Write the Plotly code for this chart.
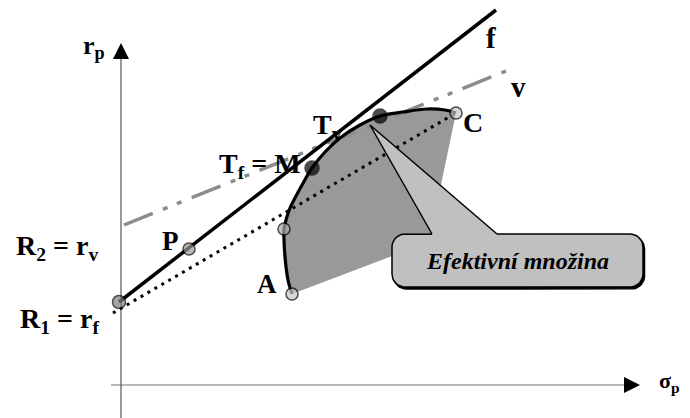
import numpy as np
import plotly.graph_objs as go

# efficient frontier A -> C  (sigma_p, r_p)
frontier_sigma = [171, 167, 164, 163, 163, 165, 169, 174, 181, 191, 204, 219, 239, 259, 282, 306, 324, 335]
frontier_r = [91, 105, 128, 145, 156, 165, 177, 187, 200, 217, 233, 247, 260, 269, 273, 276, 275, 272]

# hidden lower-right corner of the feasible set
corner_sigma = [308]
corner_r = [143]

# capital market lines
f_sigma = [-2, 375]
f_r = [83, 375]
v_sigma = [3, 385]
v_r = [160, 314]
rc_sigma = [-8, 335]
rc_r = [72, 272]

# named points
pt_names = ['R1', 'P', 'X', 'A', 'C', 'M', 'Tv']
pt_sigma = [-2, 68, 163, 171, 335, 191, 259]
pt_r = [83, 136, 156, 91, 272, 217, 269]
pt_fill = ['#808080', '#9a9a9a', '#ababab', '#c8c8c8', '#c8c8c8', 'black', 'black']
pt_size = [13, 12, 12, 12, 12, 14, 14]

# callout
box_sigma = [271, 522]
box_r = [98, 151]
pointer_sigma = [249, 311, 376]
pointer_r = [260, 151, 151]

# axes
x_axis_sigma = [-10, 519]
y_axis_r = [-33, 342]

FONT = 'Liberation Serif, Times New Roman, serif'


def rounded_box(x0, x1, y0, y1, rad):
    xs, ys = [], []
    corners = [(x1 - rad, y1 - rad, 0), (x0 + rad, y1 - rad, 90),
               (x0 + rad, y0 + rad, 180), (x1 - rad, y0 + rad, 270)]
    for cx, cy, a0 in corners:
        t = np.radians(np.linspace(a0, a0 + 90, 10))
        xs += list(cx + rad * np.cos(t))
        ys += list(cy + rad * np.sin(t))
    return xs + [xs[0]], ys + [ys[0]]


fig = go.Figure()

# feasible set
fig.add_trace(go.Scatter(
    x=frontier_sigma + corner_sigma + frontier_sigma[:1],
    y=frontier_r + corner_r + frontier_r[:1],
    fill='toself', fillcolor='#999999', mode='none'))

# lines
fig.add_trace(go.Scatter(x=v_sigma, y=v_r, mode='lines',
                         line=dict(color='#8c8c8c', width=3.5, dash='31px,11px,5px,10px,5px,11px')))
fig.add_trace(go.Scatter(x=rc_sigma, y=rc_r, mode='lines',
                         line=dict(color='black', width=3, dash='3px,5px')))
fig.add_trace(go.Scatter(x=f_sigma, y=f_r, mode='lines',
                         line=dict(color='black', width=3.5)))

# callout shadow + box
bx, by = rounded_box(box_sigma[0], box_sigma[1], box_r[0], box_r[1], 13)
fig.add_trace(go.Scatter(x=[v + 1.5 for v in bx], y=[v - 2 for v in by], mode='lines',
                         fill='toself', fillcolor='black', line=dict(color='black', width=1.5)))
fig.add_trace(go.Scatter(x=bx, y=by, mode='lines', fill='toself', fillcolor='#c0c0c0',
                         line=dict(color='black', width=1.5)))
# pointer
fig.add_trace(go.Scatter(x=[pointer_sigma[0], pointer_sigma[1], pointer_sigma[1], pointer_sigma[2], pointer_sigma[2], pointer_sigma[0]],
                         y=[pointer_r[0], pointer_r[1], pointer_r[1] - 2, pointer_r[2] - 2, pointer_r[2], pointer_r[0]],
                         mode='none', fill='toself', fillcolor='#c0c0c0'))
fig.add_trace(go.Scatter(x=[pointer_sigma[1], pointer_sigma[0], pointer_sigma[2]],
                         y=[pointer_r[1], pointer_r[0], pointer_r[2]],
                         mode='lines', line=dict(color='black', width=1.5)))

# frontier curve
fig.add_trace(go.Scatter(x=frontier_sigma, y=frontier_r, mode='lines',
                         line=dict(color='black', width=3.2, shape='spline')))

# points
fig.add_trace(go.Scatter(x=pt_sigma, y=pt_r, mode='markers', text=pt_names,
                         marker=dict(size=pt_size, color=pt_fill,
                                     line=dict(color='black', width=1.5))))

# axes
fig.add_shape(type='line', x0=x_axis_sigma[0], x1=x_axis_sigma[1] - 14, y0=0, y1=0,
              line=dict(color='#777777', width=1.2), layer='below')
fig.add_shape(type='line', x0=0, x1=0, y0=y_axis_r[0], y1=y_axis_r[1] - 14,
              line=dict(color='#555555', width=1.2), layer='below')
tip = x_axis_sigma[1]
fig.add_shape(type='path', path=f'M {tip},0 L {tip - 16},8 L {tip - 16},-8 Z',
              fillcolor='black', line=dict(width=0))
tip = y_axis_r[1]
fig.add_shape(type='path', path=f'M 0,{tip} L -8,{tip - 16} L 8,{tip - 16} Z',
              fillcolor='black', line=dict(width=0))

labels = [
    ('<b>r<sub>p</sub></b>', -27, 338, 26),
    ('<b>σ<sub>p</sub></b>', 548, 3, 22),
    ('<b>f</b>', 370, 347, 29),
    ('<b>v</b>', 397, 298, 29),
    ('<b>C</b>', 352, 263, 28),
    ('<b>T<sub>v</sub></b>', 206, 259, 28),
    ('<b>T<sub>f</sub> = M</b>', 139, 220, 28),
    ('<b>P</b>', 49, 144, 27),
    ('<b>A</b>', 146, 101, 27),
    ('<b>R<sub>2</sub> = r<sub>v</sub></b>', -64, 138, 28),
    ('<b>R<sub>1</sub> = r<sub>f</sub></b>', -62, 65, 28),
]
for txt, x, y, s in labels:
    fig.add_annotation(x=x, y=y, text=txt, showarrow=False,
                       font=dict(family=FONT, size=s, color='black'),
                       xanchor='center', yanchor='middle')

fig.add_annotation(x=(box_sigma[0] + box_sigma[1]) / 2, y=(box_r[0] + box_r[1]) / 2,
                   text='<b><i>Efektivní množina</i></b>', showarrow=False,
                   font=dict(family=FONT, size=24, color='black'))

# page body keeps an 8px margin, so the plot area is offset by it
fig.update_layout(
    width=682, height=410,
    margin=dict(l=0, r=0, t=0, b=0),
    showlegend=False,
    plot_bgcolor='white', paper_bgcolor='white',
    xaxis=dict(range=[-113, 569], visible=False, fixedrange=True),
    yaxis=dict(range=[-33, 377], visible=False, fixedrange=True),
)
fig.write_html("out.html")
